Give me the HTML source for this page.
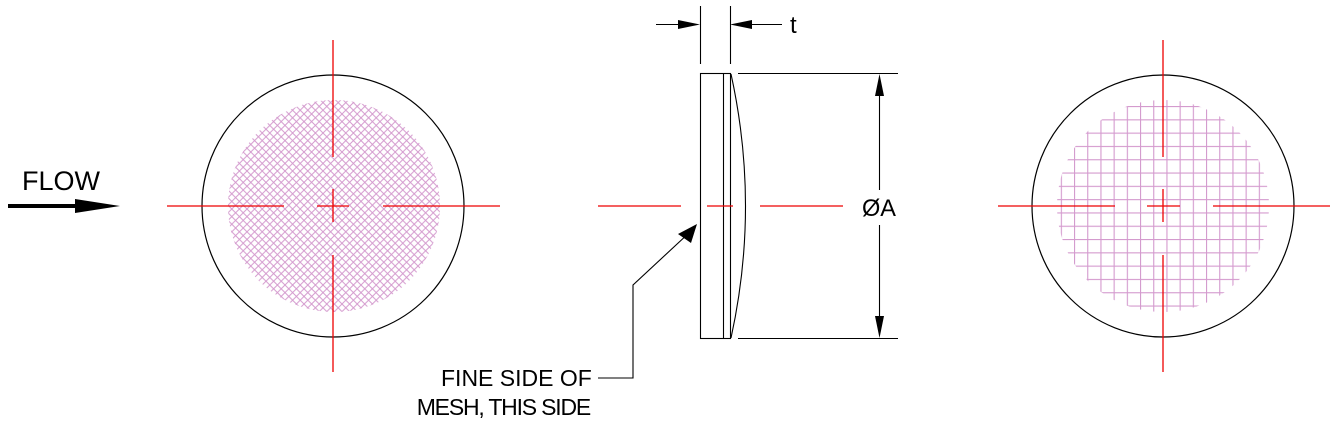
<!DOCTYPE html>
<html><head><meta charset="utf-8"><style>
html,body{margin:0;padding:0;background:#fff;}
svg{display:block;}
text{font-family:"Liberation Sans","DejaVu Sans",sans-serif;fill:#000;}
</style></head><body>
<svg width="1342" height="425" viewBox="0 0 1342 425" xmlns="http://www.w3.org/2000/svg">
<defs>
<pattern id="diag" x="0" y="0" width="7.6" height="7.6" patternUnits="userSpaceOnUse">
<path d="M0 0 L7.6 7.6 M7.6 0 L0 7.6" stroke="#d49ace" stroke-width="1"/>
</pattern>
<pattern id="sq" x="1074" y="106" width="13.2" height="13.3" patternUnits="userSpaceOnUse">
<path d="M0.5 0 V13.3 M0 0.5 H13.2" stroke="#d49ace" stroke-width="1.2"/>
</pattern>
<clipPath id="c1"><circle cx="334" cy="206" r="106"/></clipPath>
<clipPath id="c2"><circle cx="1163" cy="206" r="106"/></clipPath>
</defs>

<text x="22" y="190" font-size="27" textLength="78" lengthAdjust="spacingAndGlyphs">FLOW</text>
<line x1="8" y1="206" x2="80" y2="206" stroke="#000" stroke-width="4"/>
<polygon points="75,199 120,206 75,213" fill="#000"/>

<rect x="220" y="95" width="230" height="225" fill="url(#diag)" clip-path="url(#c1)"/>
<circle cx="333" cy="206" r="131" fill="none" stroke="#000" stroke-width="1.2"/>
<g stroke="#e00" stroke-width="1.3">
<line x1="333" y1="40" x2="333" y2="157"/>
<line x1="333" y1="189" x2="333" y2="222"/>
<line x1="333" y1="255" x2="333" y2="372"/>
<line x1="167" y1="206" x2="284" y2="206"/>
<line x1="317" y1="206" x2="349" y2="206"/>
<line x1="383" y1="206" x2="500" y2="206"/>
</g>

<rect x="1050" y="95" width="230" height="225" fill="url(#sq)" clip-path="url(#c2)"/>
<circle cx="1163" cy="206" r="131" fill="none" stroke="#000" stroke-width="1.2"/>
<g stroke="#e00" stroke-width="1.3">
<line x1="1163" y1="40" x2="1163" y2="157"/>
<line x1="1163" y1="189" x2="1163" y2="222"/>
<line x1="1163" y1="255" x2="1163" y2="372"/>
<line x1="998" y1="206" x2="1115" y2="206"/>
<line x1="1147" y1="206" x2="1180" y2="206"/>
<line x1="1213" y1="206" x2="1330" y2="206"/>
</g>

<g stroke="#000" stroke-width="1.1" fill="none">
<rect x="700.5" y="73.5" width="30" height="265"/>
<line x1="723.5" y1="73" x2="723.5" y2="338"/>
<path d="M731 74 Q 760 206 731 338"/>
<line x1="700.5" y1="6" x2="700.5" y2="64"/>
<line x1="730.5" y1="6" x2="730.5" y2="64"/>
<line x1="656" y1="24.5" x2="690" y2="24.5"/>
<line x1="740" y1="24.5" x2="782" y2="24.5"/>
<line x1="738" y1="73.5" x2="898" y2="73.5"/>
<line x1="738" y1="338.5" x2="898" y2="338.5"/>
<line x1="879.5" y1="80" x2="879.5" y2="190"/>
<line x1="879.5" y1="225" x2="879.5" y2="330"/>
<polyline points="690,232 633,285 633,378 598,378"/>
</g>
<polygon points="678,20 700,24.5 678,29" fill="#000"/>
<polygon points="752,20 730,24.5 752,29" fill="#000"/>
<polygon points="875,96 879.5,74 884,96" fill="#000"/>
<polygon points="875,316 879.5,338 884,316" fill="#000"/>
<polygon points="697,224 691,243 678,234" fill="#000"/>
<text x="790" y="33" font-size="24">t</text>
<text x="862" y="216" font-size="24" textLength="34" lengthAdjust="spacingAndGlyphs">ØA</text>
<g stroke="#e00" stroke-width="1.3">
<line x1="598" y1="206" x2="681" y2="206"/>
<line x1="707" y1="206" x2="733" y2="206"/>
<line x1="760" y1="206" x2="843" y2="206"/>
</g>
<text x="441" y="386" font-size="23">FINE SIDE OF</text>
<text x="590" y="415" font-size="23" text-anchor="end" letter-spacing="-1.2">MESH, THIS SIDE</text>
</svg>
</body></html>
